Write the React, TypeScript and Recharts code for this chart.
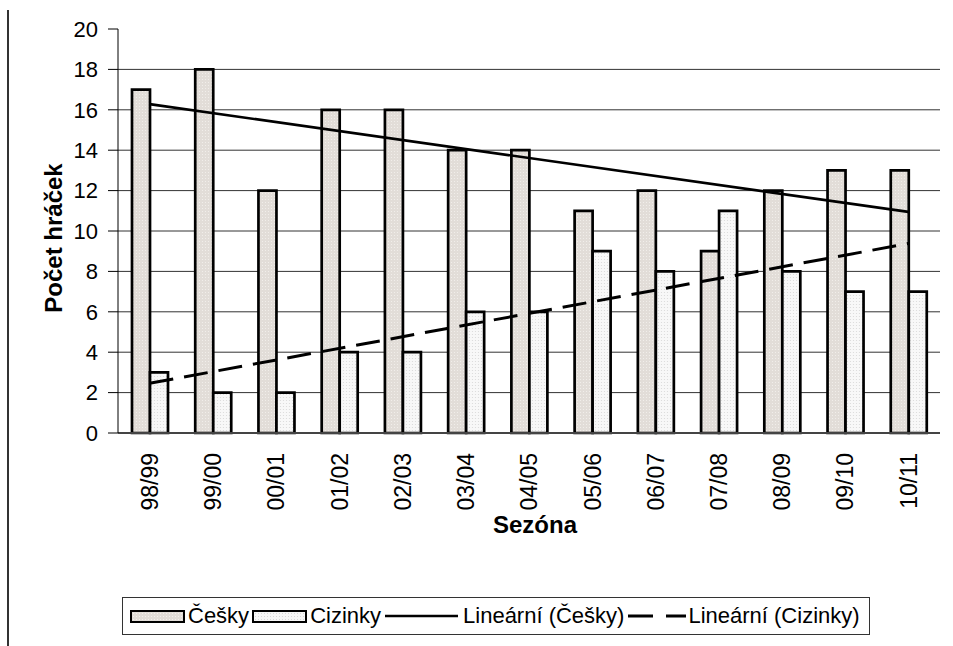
import React from 'react';
import { ComposedChart, Bar, Line, XAxis, YAxis, CartesianGrid } from 'recharts';

// Seasons on the x axis
const seasons = ['98/99', '99/00', '00/01', '01/02', '02/03', '03/04', '04/05', '05/06', '06/07', '07/08', '08/09', '09/10', '10/11'];

// Number of players per season
const ceskyValues = [17, 18, 12, 16, 16, 14, 14, 11, 12, 9, 12, 13, 13];
const cizinkyValues = [3, 2, 2, 4, 4, 6, 6, 9, 8, 11, 8, 7, 7];

// Linear trend lines, start and end value
const trendCeskyEnds = [16.28, 10.95];
const trendCizinkyEnds = [2.46, 9.38];

const yTicks = [0, 2, 4, 6, 8, 10, 12, 14, 16, 18, 20];
const gridValues = [2, 4, 6, 8, 10, 12, 14, 16, 18];

const FONT = '"Liberation Sans", Arial, sans-serif';

const data = seasons.map((season, i) => ({
  season,
  cesky: ceskyValues[i],
  cizinky: cizinkyValues[i],
  trendCesky: i === 0 ? trendCeskyEnds[0] : i === seasons.length - 1 ? trendCeskyEnds[1] : null,
  trendCizinky: i === 0 ? trendCizinkyEnds[0] : i === seasons.length - 1 ? trendCizinkyEnds[1] : null,
}));

const SeasonTick = (props: any) => {
  const { x, y, payload } = props;
  return (
    <text
      transform={`translate(${x},${y}) rotate(-90)`}
      textAnchor="end"
      dy="0.36em"
      fontSize={23}
      fontFamily={FONT}
      fill="#000"
    >
      {payload.value}
    </text>
  );
};

const swatchCesky: React.CSSProperties = {
  width: 51,
  height: 9,
  border: '2px solid #000',
  backgroundColor: '#e2ddd8',
  backgroundImage: 'radial-gradient(#f3f0ed 0.7px, transparent 0.9px)',
  backgroundSize: '3px 3px',
  flexShrink: 0,
};

const swatchCizinky: React.CSSProperties = {
  ...swatchCesky,
  backgroundColor: '#f7f7f7',
  backgroundImage: 'radial-gradient(#d8d8d8 0.7px, transparent 0.9px)',
};

const ChartLegend = () => (
  <div
    style={{
      position: 'absolute',
      left: 122,
      top: 597,
      width: 748,
      height: 38,
      border: '1px solid #333',
      display: 'flex',
      alignItems: 'center',
      fontFamily: FONT,
      fontSize: 22,
      color: '#000',
      boxSizing: 'border-box',
      paddingLeft: 7,
      whiteSpace: 'nowrap',
      overflow: 'hidden',
    }}
  >
    <div style={swatchCesky} />
    <span style={{ marginLeft: 3 }}>Češky</span>
    <div style={{ ...swatchCizinky, marginLeft: 3 }} />
    <span style={{ marginLeft: 3 }}>Cizinky</span>
    <svg width={75} height={10} style={{ marginLeft: 4, flexShrink: 0 }}>
      <line x1={0} y1={5} x2={73} y2={5} stroke="#000" strokeWidth={2.5} />
    </svg>
    <span style={{ marginLeft: 3 }}>Lineární (Češky)</span>
    <svg width={58} height={10} style={{ marginLeft: 4, flexShrink: 0 }}>
      <line x1={0} y1={5} x2={58} y2={5} stroke="#000" strokeWidth={3} strokeDasharray="25 13" />
    </svg>
    <span style={{ marginLeft: 2 }}>Lineární (Cizinky)</span>
  </div>
);

export default function App() {
  return (
    <div style={{ position: 'absolute', left: 0, top: 0, width: 953, height: 646, background: '#fff' }}>
      <div style={{ position: 'absolute', left: 7, top: 10, width: 2, height: 636, background: '#333' }} />
      <ComposedChart
        width={953}
        height={646}
        data={data}
        margin={{ top: 29, right: 13, left: 58, bottom: 103 }}
        barGap={0}
      >
        <defs>
          <pattern id="patCesky" width={3} height={3} patternUnits="userSpaceOnUse">
            <rect width={3} height={3} fill="#e2ddd8" />
            <circle cx={1.5} cy={1.5} r={0.6} fill="#f4f1ee" />
          </pattern>
          <pattern id="patCizinky" width={3} height={3} patternUnits="userSpaceOnUse">
            <rect width={3} height={3} fill="#f8f8f8" />
            <circle cx={1.5} cy={1.5} r={0.6} fill="#d9d9d9" />
          </pattern>
        </defs>
        <CartesianGrid vertical={false} horizontalValues={gridValues} stroke="#333" strokeWidth={1} />
        <XAxis
          dataKey="season"
          interval={0}
          height={110}
          tickLine={false}
          tickSize={0}
          tickMargin={20}
          tick={<SeasonTick />}
          axisLine={{ stroke: '#444', strokeWidth: 2 }}
          label={() => (
            <text x={535} y={533} textAnchor="middle" fontSize={24} fontWeight="bold" fontFamily={FONT} fill="#000">
              Sezóna
            </text>
          )}
        />
        <YAxis
          domain={[0, 20]}
          ticks={yTicks}
          interval={0}
          width={60}
          tickSize={10}
          tickMargin={10}
          tickLine={{ stroke: '#000' }}
          axisLine={{ stroke: '#000' }}
          tick={{ fontSize: 22, fontFamily: FONT, fill: '#000' }}
          label={() => (
            <text
              transform="translate(62,238) rotate(-90)"
              textAnchor="middle"
              fontSize={24}
              fontWeight="bold"
              fontFamily={FONT}
              fill="#000"
            >
              Počet hráček
            </text>
          )}
        />
        <Bar dataKey="cesky" name="Češky" fill="url(#patCesky)" stroke="#000" strokeWidth={2.7} barSize={18} isAnimationActive={false} />
        <Bar dataKey="cizinky" name="Cizinky" fill="url(#patCizinky)" stroke="#000" strokeWidth={2.7} barSize={18} isAnimationActive={false} />
        <Line
          type="linear"
          dataKey="trendCesky"
          name="Lineární (Češky)"
          stroke="#000"
          strokeWidth={2.7}
          dot={false}
          activeDot={false}
          connectNulls
          isAnimationActive={false}
        />
        <Line
          type="linear"
          dataKey="trendCizinky"
          name="Lineární (Cizinky)"
          stroke="#000"
          strokeWidth={3}
          strokeDasharray="24 11"
          dot={false}
          activeDot={false}
          connectNulls
          isAnimationActive={false}
        />
      </ComposedChart>
      <ChartLegend />
    </div>
  );
}
